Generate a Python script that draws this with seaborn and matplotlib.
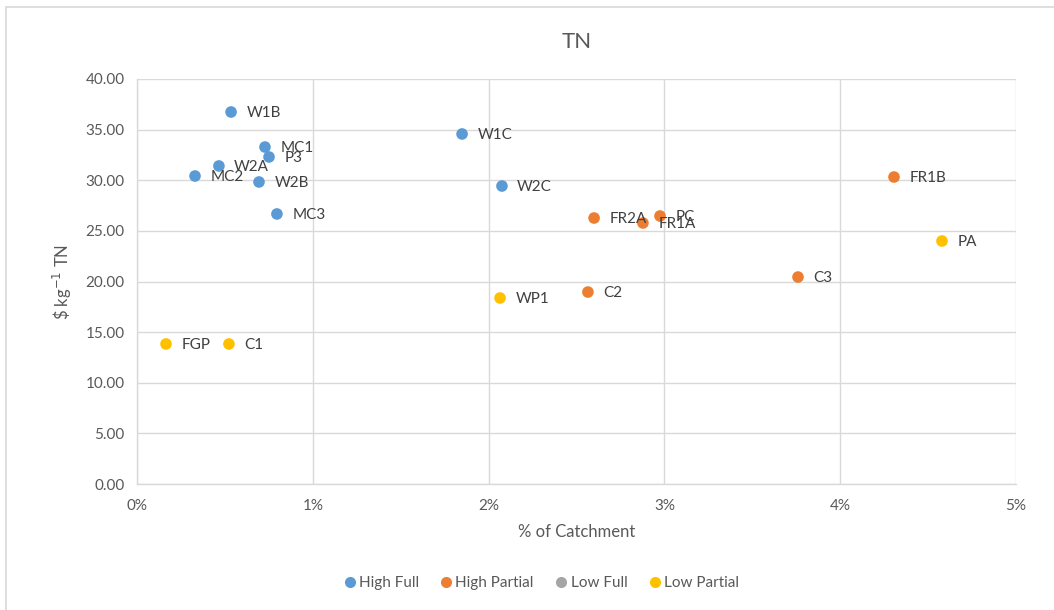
import matplotlib
matplotlib.use("Agg")
import matplotlib.pyplot as plt
from matplotlib.lines import Line2D
from matplotlib.patches import Rectangle
from matplotlib.ticker import MultipleLocator, FuncFormatter
import seaborn as sns
import pandas as pd

# Site names, share of catchment (%), cost per kg TN and management group
sites = ["W1B", "MC1", "P3", "W2A", "MC2", "W2B", "MC3", "W1C", "W2C",
         "FR2A", "PC", "FR1A", "C2", "FR1B", "C3",
         "WP1", "PA", "FGP", "C1"]
catchment_pct = [0.535, 0.728, 0.751, 0.466, 0.330, 0.694, 0.796, 1.849, 2.076,
                 2.600, 2.975, 2.878, 2.565, 4.306, 3.760,
                 2.065, 4.579, 0.165, 0.523]
cost_tn = [36.74, 33.28, 32.30, 31.41, 30.42, 29.83, 26.67, 34.57, 29.43,
           26.27, 26.47, 25.78, 18.96, 30.32, 20.44,
           18.37, 24.00, 13.83, 13.83]
group = (["High Full"] * 9 + ["High Partial"] * 6 + ["Low Partial"] * 4)

group_order = ["High Full", "High Partial", "Low Full", "Low Partial"]
group_colors = ["#5B9BD5", "#ED7D31", "#A5A5A5", "#FFC000"]

df = pd.DataFrame({"site": sites, "pct": catchment_pct,
                   "cost": cost_tn, "group": group})

sns.set_style("white")
plt.rcParams["font.family"] = ["Lato", "DejaVu Sans"]
text_col = "#595959"
grid_col = "#D9D9D9"

fig = plt.figure(figsize=(10.54, 6.10), dpi=100)
ax = fig.add_axes([137 / 1054, 126 / 610, 879 / 1054, 405 / 610])

palette = dict(zip(group_order, group_colors))
sns.scatterplot(data=df, x="pct", y="cost", hue="group", hue_order=group_order,
                palette=palette, s=70, edgecolor="none", legend=False,
                ax=ax, zorder=3, clip_on=False)

for _, r in df.iterrows():
    ax.annotate(r["site"], (r["pct"], r["cost"]), xytext=(11, -1),
                textcoords="offset points", va="center", ha="left",
                fontsize=11, color="#404040", zorder=4)

ax.set_xlim(0, 5)
ax.set_ylim(0, 40)
ax.xaxis.set_major_locator(MultipleLocator(1))
ax.xaxis.set_minor_locator(MultipleLocator(0.2))
ax.yaxis.set_major_locator(MultipleLocator(5))
ax.xaxis.set_major_formatter(FuncFormatter(lambda v, p: f"{v:.0f}%"))
ax.yaxis.set_major_formatter(FuncFormatter(lambda v, p: f"{v:.2f}"))

ax.grid(True, which="major", color=grid_col, linewidth=1)
ax.set_axisbelow(True)
for side in ["top", "right"]:
    ax.spines[side].set_visible(False)
for side in ["left", "bottom"]:
    ax.spines[side].set_color(grid_col)
    ax.spines[side].set_linewidth(1)

ax.tick_params(axis="both", which="major", length=5, width=1, color=grid_col,
               labelcolor=text_col, labelsize=11, direction="out")
ax.tick_params(axis="x", which="minor", length=3, width=1, color=grid_col,
               direction="out")
ax.tick_params(axis="x", which="major", pad=6)
ax.tick_params(axis="y", which="major", pad=4)
ax.tick_params(axis="y", which="minor", length=0)

ax.set_xlabel("% of Catchment", fontsize=12, color=text_col, labelpad=8)
ax.set_ylabel(r"\$ kg$^{-1}$ TN", fontsize=12, color=text_col, labelpad=8)
ax.set_title("TN", fontsize=16, color=text_col, pad=22)

handles = [Line2D([0], [0], marker="o", linestyle="none", markersize=8,
                  markerfacecolor=c, markeredgecolor="none", label=g)
           for g, c in zip(group_order, group_colors)]
fig.legend(handles=handles, loc="center", bbox_to_anchor=(0.512, 27 / 610),
           ncol=4, frameon=False, fontsize=11, handletextpad=0.0,
           handlelength=1.2, columnspacing=1.2, labelcolor=text_col)

# Chart-area frame
fig.patches.append(Rectangle((6 / 1054, -0.05), 1.2, (610 - 7) / 610 + 0.05,
                             transform=fig.transFigure, fill=False,
                             edgecolor="#D9D9D9", linewidth=1.2))

fig.savefig("out.png", dpi=100)
